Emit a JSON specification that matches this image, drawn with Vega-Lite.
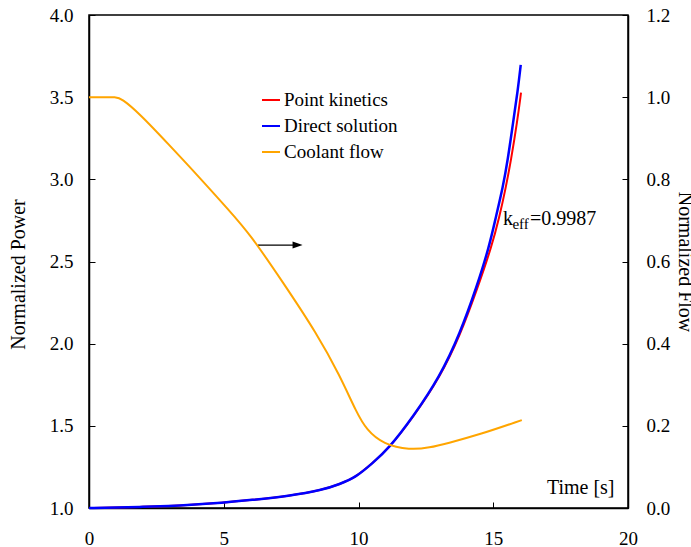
{
  "$schema": "https://vega.github.io/schema/vega-lite/v6.json",
  "width": 539,
  "height": 493,
  "autosize": "none",
  "padding": {"left": 89, "top": 15, "right": 63, "bottom": 39},
  "background": "white",
  "config": {
    "font": "Liberation Serif",
    "view": {"stroke": "black", "strokeWidth": 1.5},
    "axis": {
      "grid": false,
      "domainColor": "black",
      "domainWidth": 1.5,
      "tickColor": "black",
      "tickWidth": 1,
      "tickSize": -6,
      "labelFlush": false,
      "labelFont": "Liberation Serif",
      "labelFontSize": 19,
      "labelColor": "black",
      "titleFont": "Liberation Serif",
      "titleFontSize": 20,
      "titleFontWeight": "normal",
      "titleColor": "black"
    },
    "legend": {
      "labelFont": "Liberation Serif",
      "labelFontSize": 19,
      "labelColor": "black"
    }
  },
  "datasets": {
    "pk": [
      {"t": 0, "p": 1.0}, {"t": 1, "p": 1.003}, {"t": 2, "p": 1.007}, {"t": 3, "p": 1.012},
      {"t": 3.71, "p": 1.018}, {"t": 4.95, "p": 1.032}, {"t": 6, "p": 1.048}, {"t": 7.42, "p": 1.073},
      {"t": 8.66, "p": 1.109}, {"t": 9.3, "p": 1.145}, {"t": 9.9, "p": 1.187}, {"t": 10.5, "p": 1.27},
      {"t": 11.13, "p": 1.363}, {"t": 12.03, "p": 1.553}, {"t": 13.02, "p": 1.794}, {"t": 13.77, "p": 2.05},
      {"t": 14.39, "p": 2.325}, {"t": 14.94, "p": 2.59}, {"t": 15.23, "p": 2.773}, {"t": 15.46, "p": 2.945},
      {"t": 15.66, "p": 3.118}, {"t": 15.89, "p": 3.351}, {"t": 16.03, "p": 3.527}
    ],
    "direct": [
      {"t": 0, "p": 1.0}, {"t": 1, "p": 1.003}, {"t": 2, "p": 1.007}, {"t": 3, "p": 1.012},
      {"t": 3.71, "p": 1.018}, {"t": 4.95, "p": 1.032}, {"t": 6, "p": 1.048}, {"t": 7.42, "p": 1.073},
      {"t": 8.66, "p": 1.109}, {"t": 9.3, "p": 1.145}, {"t": 9.9, "p": 1.187}, {"t": 10.5, "p": 1.27},
      {"t": 11.13, "p": 1.363}, {"t": 12.03, "p": 1.556}, {"t": 13.02, "p": 1.799}, {"t": 13.77, "p": 2.063},
      {"t": 14.39, "p": 2.347}, {"t": 14.85, "p": 2.59}, {"t": 15.1, "p": 2.773}, {"t": 15.35, "p": 2.945},
      {"t": 15.54, "p": 3.118}, {"t": 15.74, "p": 3.351}, {"t": 15.91, "p": 3.54}, {"t": 16.02, "p": 3.696}
    ],
    "flow": [
      {"t": 0, "f": 1.0}, {"t": 0.5, "f": 1.0}, {"t": 1.0, "f": 1.0}, {"t": 1.2, "f": 0.997},
      {"t": 1.86, "f": 0.961}, {"t": 2.97, "f": 0.884}, {"t": 4.08, "f": 0.806}, {"t": 5.19, "f": 0.725},
      {"t": 5.97, "f": 0.667}, {"t": 7.21, "f": 0.548}, {"t": 8.45, "f": 0.425}, {"t": 9.31, "f": 0.322},
      {"t": 9.93, "f": 0.232}, {"t": 10.3, "f": 0.19}, {"t": 10.92, "f": 0.155}, {"t": 11.91, "f": 0.141},
      {"t": 12.65, "f": 0.147}, {"t": 13.27, "f": 0.157}, {"t": 14.51, "f": 0.179}, {"t": 16.06, "f": 0.214}
    ],
    "arrow": [{"t": 6.27, "t2": 7.6, "p": 2.6}],
    "arrowhead": [{"t": 7.74, "p": 2.6}],
    "keff": [{"t": 15.36, "p": 2.722}]
  },
  "layer": [
    {
      "encoding": {
        "x": {
          "field": "t", "type": "quantitative",
          "scale": {"domain": [0, 20], "nice": false, "zero": false},
          "axis": {
            "values": [0, 5, 10, 15, 20], "format": "d", "labelPadding": 27,
            "labelFont": "Liberation Serif",
            "title": "Time [s]", "titleX": 525, "titleY": -15,
            "titleAlign": "right", "titleBaseline": "alphabetic", "titleAnchor": null
          }
        },
        "y": {
          "field": "p", "type": "quantitative",
          "scale": {"domain": [1, 4], "nice": false, "zero": false},
          "axis": {
            "orient": "left", "values": [1, 1.5, 2, 2.5, 3, 3.5, 4], "format": ".1f",
            "labelFont": "Liberation Serif",
            "labelPadding": 22, "title": "Normalized Power",
            "titleX": -71, "titleY": 259, "titleAngle": 270,
            "titleAlign": "center", "titleBaseline": "middle"
          }
        }
      },
      "layer": [
        {
          "data": {"name": "pk"},
          "mark": {"type": "line", "strokeWidth": 2, "interpolate": "basis"},
          "encoding": {"color": {"datum": "Point kinetics", "type": "nominal"}}
        },
        {
          "data": {"name": "direct"},
          "mark": {"type": "line", "strokeWidth": 2.5, "interpolate": "basis"},
          "encoding": {"color": {"datum": "Direct solution", "type": "nominal"}}
        },
        {
          "data": {"name": "arrow"},
          "mark": {"type": "rule", "color": "black", "strokeWidth": 1.3},
          "encoding": {"x2": {"field": "t2"}}
        },
        {
          "data": {"name": "arrowhead"},
          "mark": {"type": "point", "shape": "M-1,-0.7L1,0L-1,0.7Z", "size": 100, "filled": true, "color": "black", "opacity": 1}
        },
        {
          "data": {"name": "keff"},
          "mark": {"type": "text", "align": "left", "baseline": "alphabetic", "font": "Liberation Serif", "fontSize": 20, "color": "black"},
          "encoding": {"text": {"value": "k"}}
        },
        {
          "data": {"name": "keff"},
          "mark": {"type": "text", "align": "left", "baseline": "alphabetic", "font": "Liberation Serif", "fontSize": 15, "color": "black", "dx": 9.5, "dy": 4},
          "encoding": {"text": {"value": "eff"}}
        },
        {
          "data": {"name": "keff"},
          "mark": {"type": "text", "align": "left", "baseline": "alphabetic", "font": "Liberation Serif", "fontSize": 20, "color": "black", "dx": 27},
          "encoding": {"text": {"value": "=0.9987"}}
        }
      ]
    },
    {
      "data": {"name": "flow"},
      "mark": {"type": "line", "strokeWidth": 2, "interpolate": "basis"},
      "encoding": {
        "x": {"field": "t", "type": "quantitative"},
        "y": {
          "field": "f", "type": "quantitative",
          "scale": {"domain": [0, 1.2], "nice": false},
          "axis": {
            "orient": "right", "values": [0, 0.2, 0.4, 0.6, 0.8, 1.0, 1.2], "format": ".1f",
            "labelFont": "Liberation Serif",
            "labelPadding": 24, "title": "Normalized Flow",
            "titleX": 56, "titleY": 246.5, "titleAngle": 90,
            "titleAlign": "center", "titleBaseline": "middle"
          }
        },
        "color": {
          "datum": "Coolant flow", "type": "nominal",
          "scale": {
            "domain": ["Point kinetics", "Direct solution", "Coolant flow"],
            "range": ["#ff0000", "#0000ff", "#ffa500"]
          },
          "legend": {
            "orient": "none", "legendX": 172, "legendY": 75, "title": null,
            "labelFont": "Liberation Serif",
            "symbolType": "stroke", "symbolSize": 324, "symbolStrokeWidth": 2,
            "labelOffset": 3, "rowPadding": 6, "padding": 0
          }
        }
      }
    }
  ],
  "resolve": {"scale": {"y": "independent"}}
}
